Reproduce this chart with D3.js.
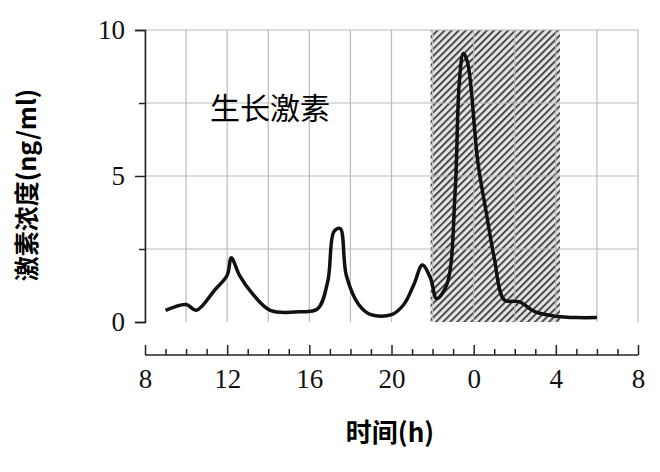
<!DOCTYPE html><html><head><meta charset="utf-8">
<script src="https://cdn.jsdelivr.net/npm/d3@7"></script>
<style>body{margin:0;background:#fff} .tk text{font-family:"Liberation Serif",serif !important;font-size:27px;}</style></head><body>
<svg id="c" width="660" height="472"></svg>
<script>
const hours=[9,10,10.5,11.4,12,12.2,12.6,13.2,14.1,15.5,16.4,16.9,17.2,17.5,17.8,18.4,19,20,20.6,21.1,21.5,21.9,22.2,22.7,23.1,23.3,23.5,23.7,24.2,24.6,25,25.5,26.2,27,28,29,30];
const values=[0.4,0.6,0.4,1.1,1.6,2.2,1.6,1.0,0.4,0.35,0.45,1.4,3.1,3.2,1.6,0.6,0.25,0.25,0.6,1.3,1.95,1.5,0.8,1.3,4.5,8.2,9.2,8.9,5.5,3.8,2.2,0.75,0.7,0.35,0.2,0.15,0.15];
const tickLabels=["8","12","16","20","0","4","8"];
const tickHours=[8,12,16,20,24,28,32];
const yTicks=[0,5,10];
const shade=[21.9,28.2];
const svg=d3.select("#c");
const x=d3.scaleLinear().domain([8,32]).range([145,638]);
const y=d3.scaleLinear().domain([0,10]).range([322,30]);
const defs=svg.append("defs");
const p=defs.append("pattern").attr("id","h").attr("patternUnits","userSpaceOnUse").attr("width",5).attr("height",5).attr("patternTransform","rotate(45)");
p.append("rect").attr("width",5).attr("height",5).attr("fill","#e4e4e4");
p.append("rect").attr("width",1.7).attr("height",5).attr("fill","#333");
svg.append("rect").attr("x",x(shade[0])).attr("y",y(10)).attr("width",x(shade[1])-x(shade[0])).attr("height",y(0)-y(10)).attr("fill","url(#h)");
const g=svg.append("g").attr("stroke","#bbb").attr("stroke-width",1.2);
d3.range(8,33,2).forEach(h=>g.append("line").attr("x1",x(h)).attr("x2",x(h)).attr("y1",y(10)).attr("y2",y(0)));
[2.5,5,7.5,10].forEach(v=>g.append("line").attr("x1",x(8)).attr("x2",x(32)).attr("y1",y(v)).attr("y2",y(v)));
svg.append("g").attr("class","tk").attr("transform","translate(145,0)").call(d3.axisLeft(y).tickValues(yTicks).tickSize(10).tickFormat(d3.format("d")))
 .call(a=>{a.select(".domain").attr("stroke","#222").attr("stroke-width",1.5);a.selectAll("line").attr("stroke","#222").attr("stroke-width",1.5);a.selectAll("text").attr("x",-20).attr("fill","#111");});
svg.append("g").attr("transform","translate(145,0)").call(d3.axisLeft(y).tickValues([2.5,7.5]).tickSize(6).tickFormat("")).call(a=>{a.select(".domain").remove();a.selectAll("line").attr("stroke","#222").attr("stroke-width",1.5);});
const ax=svg.append("g").attr("class","tk").attr("transform","translate(0,355)");
ax.call(d3.axisBottom(x).tickValues(tickHours).tickSize(-10).tickFormat((d,i)=>tickLabels[i]))
 .call(a=>{a.select(".domain").attr("stroke","#222").attr("stroke-width",1.5).attr("d",`M${x(8)},0H${x(32)}`);a.selectAll("line").attr("stroke","#222").attr("stroke-width",1.5);a.selectAll("text").attr("dy","1em").attr("y",6).attr("fill","#111");});
ax.append("g").call(d3.axisBottom(x).tickValues(d3.range(9,32,1).filter(h=>!tickHours.includes(h))).tickSize(-6).tickFormat("")).call(a=>{a.select(".domain").remove();a.selectAll("line").attr("stroke","#222").attr("stroke-width",1.5);});
const line=d3.line().x((d,i)=>x(hours[i])).y(d=>y(d)).curve(d3.curveCatmullRom);
svg.append("path").datum(values).attr("d",line).attr("fill","none").attr("stroke","#111").attr("stroke-width",3.5);
svg.append("text").attr("x",270).attr("y",119).attr("text-anchor","middle").attr("font-family","Noto Sans CJK SC").attr("font-size",30).text("生长激素");
svg.append("text").attr("x",390).attr("y",442).attr("text-anchor","middle").attr("font-family","Noto Sans CJK SC").attr("font-size",26).attr("font-weight","bold").text("时间(h)");
svg.append("text").attr("transform","translate(36,185) rotate(-90)").attr("text-anchor","middle").attr("font-family","Noto Sans CJK SC").attr("font-size",25).attr("font-weight","bold").text("激素浓度(ng/ml)");
</script></body></html>
